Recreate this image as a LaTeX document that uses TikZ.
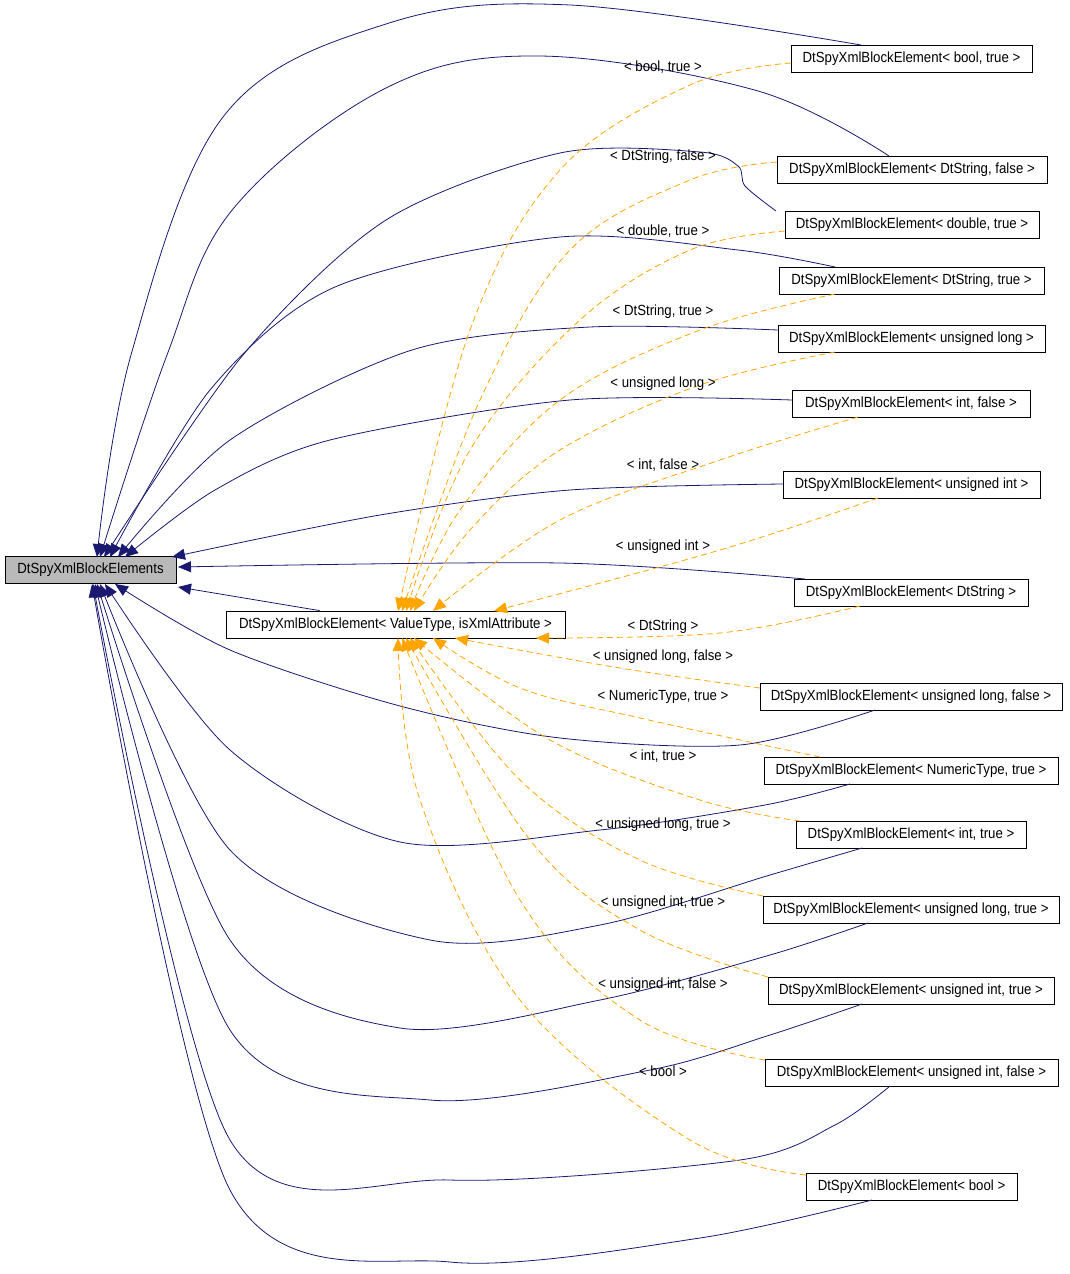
\documentclass[tikz,border=0pt]{standalone}
\usepackage{fontspec}
\setmainfont{Liberation Sans}[FakeStretch=0.9]
\usetikzlibrary{arrows.meta}
\definecolor{navy}{RGB}{25,25,112}
\definecolor{orng}{RGB}{255,165,0}
\begin{document}
\begin{tikzpicture}[x=1pt,y=-1pt,
  box/.style={draw,thick,inner sep=0pt,minimum height=27pt,font=\fontsize{14.7}{16}\selectfont},
  inh/.style={navy,thick,-{Triangle[length=13pt,width=11pt]}},
  tpl/.style={orng,thick,dashed,dash pattern=on 6pt off 4pt,-{Triangle[length=13pt,width=11pt]}},
  lbl/.style={font=\fontsize{14.7}{16}\selectfont,inner sep=1pt}]
\useasboundingbox (0,0) rectangle (1069,1274);
\node[box,fill=gray!55,minimum width=171pt] (m) at (90.5,570) {DtSpyXmlBlockElements};
\node[box,minimum width=339pt] (t) at (395.5,624.5) {DtSpyXmlBlockElement< ValueType, isXmlAttribute >};
\node[box,minimum width=241pt] (r1) at (911.5,58.5) {DtSpyXmlBlockElement< bool, true >};
\node[box,minimum width=270pt] (r2) at (912,169.5) {DtSpyXmlBlockElement< DtString, false >};
\node[box,minimum width=254pt] (r3) at (912,224.5) {DtSpyXmlBlockElement< double, true >};
\node[box,minimum width=265pt] (r4) at (911.5,280.5) {DtSpyXmlBlockElement< DtString, true >};
\node[box,minimum width=267pt] (r5) at (911.5,338.5) {DtSpyXmlBlockElement< unsigned long >};
\node[box,minimum width=238pt] (r6) at (911,403.5) {DtSpyXmlBlockElement< int, false >};
\node[box,minimum width=257pt] (r7) at (911.5,484.5) {DtSpyXmlBlockElement< unsigned int >};
\node[box,minimum width=234pt] (r8) at (911,592.5) {DtSpyXmlBlockElement< DtString >};
\node[box,minimum width=302pt] (r9) at (911,696.5) {DtSpyXmlBlockElement< unsigned long, false >};
\node[box,minimum width=294pt] (r10) at (911,770.5) {DtSpyXmlBlockElement< NumericType, true >};
\node[box,minimum width=230pt] (r11) at (911,834.5) {DtSpyXmlBlockElement< int, true >};
\node[box,minimum width=296pt] (r12) at (911,909.5) {DtSpyXmlBlockElement< unsigned long, true >};
\node[box,minimum width=286pt] (r13) at (911,990.5) {DtSpyXmlBlockElement< unsigned int, true >};
\node[box,minimum width=293pt] (r14) at (911.5,1072.5) {DtSpyXmlBlockElement< unsigned int, false >};
\node[box,minimum width=211pt] (r15) at (911.5,1186.5) {DtSpyXmlBlockElement< bool >};
% inheritance edges
\draw[inh] plot[smooth,tension=0.6] coordinates {(861,45) (570,5) (386,24) (223,117) (131,355) (97,557)};
\draw[inh] plot[smooth,tension=0.6] coordinates {(889,156) (758,91) (539,56) (386,88) (233,209) (167,355) (100,557)};
\draw[inh] plot[smooth,tension=0.5] coordinates {(776,211) (745,186) (738,166) (700,152) (560,153) (386,220) (243,355) (104,557)};
\draw[inh] plot[smooth,tension=0.5] coordinates {(835,267) (738,250) (560,237) (335,287) (210,390) (110,557)};
\draw[inh] plot[smooth,tension=0.5] coordinates {(778,330) (590,327) (412,350) (230,440) (118,557)};
\draw[inh] plot[smooth,tension=0.5] coordinates {(792,400) (570,400) (330,440) (215,490) (125,557)};
\draw[inh] plot[smooth,tension=0.5] coordinates {(783,484) (570,490) (380,515) (172,557)};
\draw[inh] plot[smooth,tension=0.5] coordinates {(805,579) (560,563) (178,567)};
\draw[inh] (t.north west) ++(94,0) -- (178,587);
\draw[inh] plot[smooth,tension=0.5] coordinates {(875,710) (740,745) (560,738) (400,706) (230,650) (115,584)};
\draw[inh] plot[smooth,tension=0.5] coordinates {(850,784) (765,805) (600,830) (400,842) (230,750) (105,584)};
\draw[inh] plot[smooth,tension=0.5] coordinates {(862,848) (770,875) (600,925) (430,940) (230,850) (100,584)};
\draw[inh] plot[smooth,tension=0.5] coordinates {(868,923) (770,955) (600,1000) (400,1028) (230,940) (97,584)};
\draw[inh] plot[smooth,tension=0.5] coordinates {(862,1004) (770,1035) (650,1070) (430,1100) (230,1030) (95,584)};
\draw[inh] plot[smooth,tension=0.5] coordinates {(890,1086) (835,1125) (740,1160) (450,1180) (230,1140) (93,584)};
\draw[inh] plot[smooth,tension=0.5] coordinates {(872,1200) (700,1238) (450,1262) (230,1190) (92,584)};
% template edges
\draw[tpl] plot[smooth,tension=0.6] coordinates {(791,63) (690,85) (560,170) (470,330) (398,611)};
\draw[tpl] plot[smooth,tension=0.6] coordinates {(777,162) (690,180) (570,250) (480,400) (402,611)};
\draw[tpl] plot[smooth,tension=0.6] coordinates {(785,231) (690,250) (580,320) (470,450) (406,611)};
\draw[tpl] plot[smooth,tension=0.6] coordinates {(835,294) (700,330) (560,400) (460,510) (410,611)};
\draw[tpl] plot[smooth,tension=0.6] coordinates {(835,352) (700,385) (560,450) (470,530) (414,611)};
\draw[tpl] plot[smooth,tension=0.6] coordinates {(858,417) (720,460) (560,520) (433,611)};
\draw[tpl] plot[smooth,tension=0.6] coordinates {(878,498) (720,550) (494,611)};
\draw[tpl] plot[smooth,tension=0.6] coordinates {(860,606) (720,633) (536,638)};
\draw[tpl] plot[smooth,tension=0.6] coordinates {(760,688) (620,668) (455,638)};
\draw[tpl] plot[smooth,tension=0.6] coordinates {(820,757) (640,718) (520,688) (433,638)};
\draw[tpl] plot[smooth,tension=0.6] coordinates {(800,821) (700,800) (550,740) (414,638)};
\draw[tpl] plot[smooth,tension=0.6] coordinates {(763,896) (640,860) (520,780) (410,638)};
\draw[tpl] plot[smooth,tension=0.6] coordinates {(768,977) (640,930) (530,840) (406,638)};
\draw[tpl] plot[smooth,tension=0.6] coordinates {(765,1060) (640,1020) (520,900) (402,638)};
\draw[tpl] plot[smooth,tension=0.6] coordinates {(806,1175) (690,1140) (520,1000) (420,800) (398,638)};
% labels
\node[lbl] (l1) at (663,67) {< bool, true >};
\node[lbl] (l2) at (663,157) {< DtString, false >};
\node[lbl] (l3) at (663,231) {< double, true >};
\node[lbl] (l4) at (663,312) {< DtString, true >};
\node[lbl] (l5) at (663,384) {< unsigned long >};
\node[lbl] (l6) at (663,465) {< int, false >};
\node[lbl] (l7) at (663,547) {< unsigned int >};
\node[lbl] (l8) at (663,627) {< DtString >};
\node[lbl] (l9) at (663,657) {< unsigned long, false >};
\node[lbl] (l10) at (663,697) {< NumericType, true >};
\node[lbl] (l11) at (663,756) {< int, true >};
\node[lbl] (l12) at (663,825) {< unsigned long, true >};
\node[lbl] (l13) at (663,903) {< unsigned int, true >};
\node[lbl] (l14) at (663,985) {< unsigned int, false >};
\node[lbl] (l15) at (663,1071) {< bool >};
\end{tikzpicture}
\end{document}
